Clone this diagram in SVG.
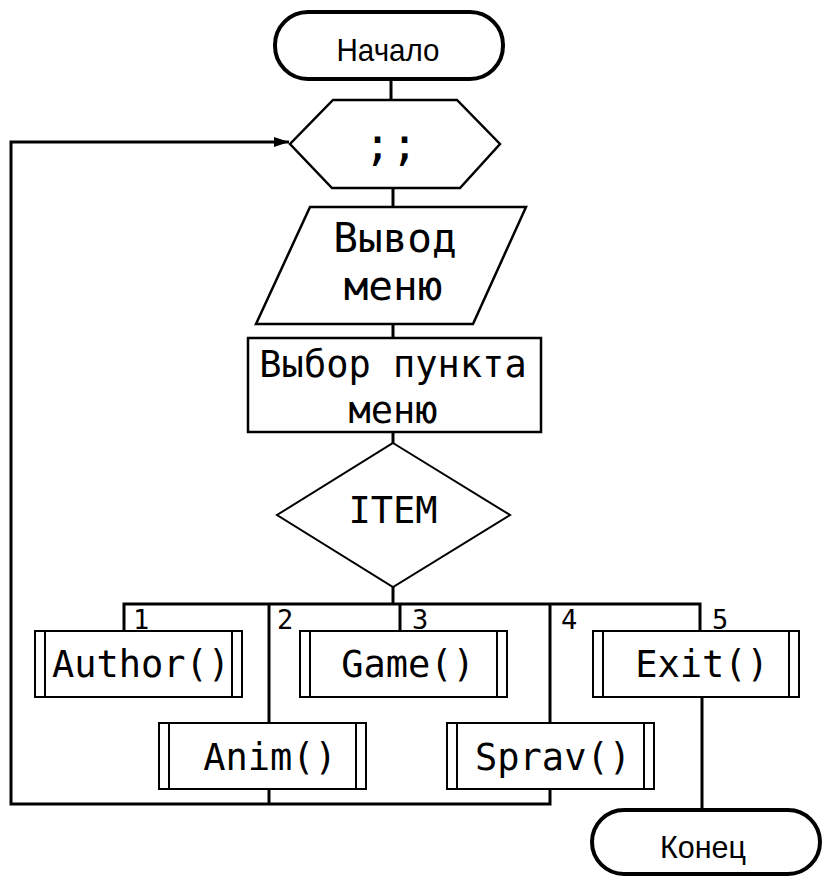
<svg xmlns="http://www.w3.org/2000/svg" width="823" height="880" viewBox="0 0 823 880">
<style>
.bg{fill:#fff}
.term{fill:#fff;stroke:#000;stroke-width:4}
.shape{fill:#fff;stroke:#000;stroke-width:2.5}
.box{fill:#fff;stroke:#000;stroke-width:2}
.conn{fill:none;stroke:#000;stroke-width:3}
.sans{font-family:"Liberation Sans",Arial,sans-serif;font-size:32px;fill:#000;text-anchor:middle}
.mono{font-family:"DejaVu Sans Mono","Liberation Mono",monospace;font-size:37px;fill:#000;text-anchor:middle}
.lbl{font-family:"DejaVu Sans Mono","Liberation Mono",monospace;font-size:27px;fill:#000}
</style>
<defs>
<marker id="arr" markerWidth="16" markerHeight="12" refX="15" refY="6" orient="auto" markerUnits="userSpaceOnUse">
<path d="M0,1 L15,6 L0,11 Z" fill="#000"/>
</marker>
</defs>
<rect class="bg" x="0" y="0" width="823" height="880"/>
<g id="connectors">
<path class="conn" d="M391,80 V100"/>
<path class="conn" d="M393,188 V207"/>
<path class="conn" d="M393,324 V338"/>
<path class="conn" d="M393,432 V443"/>
<path class="conn" d="M393,587 V604"/>
<path class="conn" d="M124,631 V604 H700 V631"/>
<path class="conn" d="M269,604 V723"/>
<path class="conn" d="M400,604 V631"/>
<path class="conn" d="M550,604 V723"/>
<path class="conn" d="M702,697 V810"/>
<path class="conn" d="M269,789 V804"/>
<path class="conn" d="M550,789 V804 H11 V142 H289" marker-end="url(#arr)"/>
</g>
<g id="start">
<rect class="term" x="275" y="12" width="228" height="67" rx="33" ry="33"/>
<text class="sans" x="388" y="61" textLength="103" lengthAdjust="spacingAndGlyphs">Начало</text>
</g>
<g id="loop">
<polygon class="shape" points="333,100 457,100 500,144 460,188 332,188 290,144"/>
<text class="mono" x="391" y="160" style="font-size:45px">;;</text>
</g>
<g id="output">
<polygon class="shape" points="310,207 526,207 473,324 256,324"/>
<text class="mono" x="395" y="252" style="font-size:41px">Вывод</text>
<text class="mono" x="393" y="300" style="font-size:41px">меню</text>
</g>
<g id="select">
<rect class="shape" x="248" y="338" width="293" height="94"/>
<text class="mono" x="393" y="377">Выбор пункта</text>
<text class="mono" x="393" y="423">меню</text>
</g>
<g id="decision">
<polygon class="box" points="393,443 510,515 393,587 277,515"/>
<text class="mono" x="393" y="523">ITEM</text>
</g>
<g id="labels">
<text class="lbl" x="133" y="629">1</text>
<text class="lbl" x="277" y="629">2</text>
<text class="lbl" x="412" y="629">3</text>
<text class="lbl" x="561" y="629">4</text>
<text class="lbl" x="712" y="629">5</text>
</g>
<g id="author">
<rect class="box" x="35" y="631" width="207" height="66"/>
<path class="box" d="M45,631 V697 M232,631 V697"/>
<text class="mono" x="141" y="677">Author()</text>
</g>
<g id="game">
<rect class="box" x="300" y="631" width="207" height="66"/>
<path class="box" d="M310,631 V697 M497,631 V697"/>
<text class="mono" x="408" y="677">Game()</text>
</g>
<g id="exit">
<rect class="box" x="593" y="631" width="206" height="66"/>
<path class="box" d="M603,631 V697 M789,631 V697"/>
<text class="mono" x="702" y="677">Exit()</text>
</g>
<g id="anim">
<rect class="box" x="159" y="723" width="207" height="66"/>
<path class="box" d="M169,723 V789 M356,723 V789"/>
<text class="mono" x="270" y="770">Anim()</text>
</g>
<g id="sprav">
<rect class="box" x="447" y="723" width="207" height="66"/>
<path class="box" d="M457,723 V789 M644,723 V789"/>
<text class="mono" x="553" y="770">Sprav()</text>
</g>
<g id="end">
<rect class="term" x="592" y="810" width="228" height="64" rx="32" ry="32"/>
<text class="sans" x="703" y="858" textLength="86" lengthAdjust="spacingAndGlyphs">Конец</text>
</g>
</svg>
